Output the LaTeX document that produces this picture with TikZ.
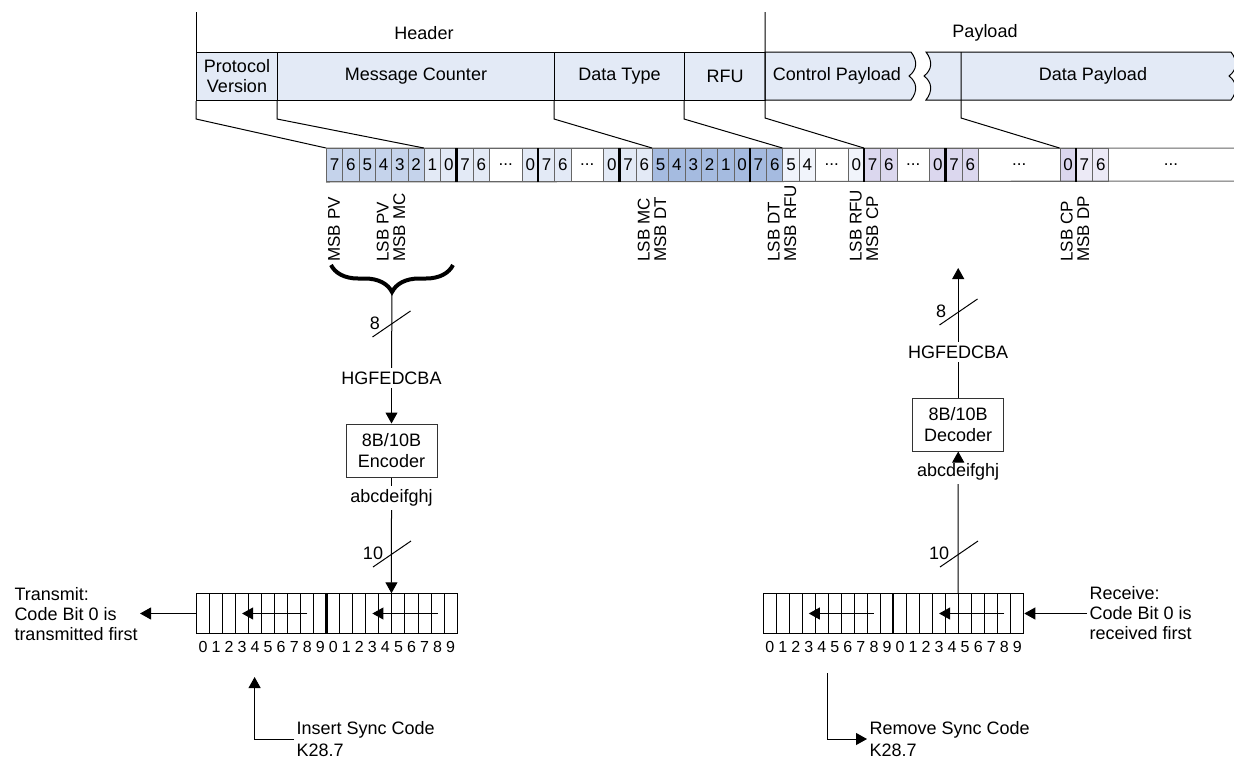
\documentclass[tikz,border=0pt]{standalone}
\usepackage{fontspec}
\setmainfont{Liberation Sans}
\usetikzlibrary{arrows.meta,positioning,decorations.pathreplacing}

\definecolor{hdr}{RGB}{227,234,246}
\definecolor{pvc}{RGB}{197,211,235}
\definecolor{mcc}{RGB}{227,234,246}
\definecolor{dtc}{RGB}{165,187,224}
\definecolor{rfuc}{RGB}{241,244,251}
\definecolor{cpc}{RGB}{219,215,238}
\definecolor{dpc}{RGB}{236,234,246}

% torn edge of the header band, top to bottom and bottom to top
\newcommand{\tornd}[1]{.. controls (#1+7,61) and (#1+6,70) .. (#1-2,76) .. controls (#1+6,82) and (#1+7,91) .. (#1,100)}
\newcommand{\tornu}[1]{.. controls (#1+7,91) and (#1+6,82) .. (#1-2,76) .. controls (#1+6,70) and (#1+7,61) .. (#1,52)}
\newcommand{\bdots}{...}

\begin{document}
\begin{tikzpicture}[x=1pt, y=-1pt, line width=1pt,
    font=\fontsize{18}{20}\selectfont,
    arr/.style={-{Triangle[length=11pt,width=12pt]}},
    field/.style={draw, fill=hdr, minimum height=48, inner sep=0, anchor=north west, align=center},
    bit cell/.style={draw=black!60, minimum height=33, inner sep=0, anchor=north west, font=\fontsize{17}{20}\selectfont},
    byte sep/.style={line width=2.5pt},
    vlabel/.style={rotate=90, anchor=west, align=left, inner sep=0, font=\fontsize{17}{16.5}\selectfont},
    codec/.style={draw=black!80, minimum width=91, minimum height=53, align=center, font=\fontsize{18}{21}\selectfont},
    reg cell/.style={draw, minimum width=13.03, minimum height=39.4, inner sep=0, anchor=north west},
    reg num/.style={inner sep=0, font=\fontsize{16}{18}\selectfont},
    side text/.style={align=left, inner sep=2pt, anchor=west}]

  \useasboundingbox (0,0) rectangle (1234,758);

  %Header band%
  \node (hdrtitle) at (424,33) {Header};
  \node (pltitle) at (985,33) {Payload};
  \node[field, minimum width=81] (pv) at (196,52) {Protocol\\Version};
  \node[field, minimum width=277] (mc) at (277,52) {Message Counter};
  \node[field, minimum width=130] (dt) at (554,52) {Data Type};
  \node[field, minimum width=81] (rfu) at (684,52) {RFU};
  \filldraw[fill=hdr] (765,52) -- (911,52) \tornd{911} -- (765,100) -- cycle;
  \node (cp) at (837,76) {Control Payload};
  \filldraw[fill=hdr] (926,100) \tornu{926} -- (1231,52) \tornd{1231} -- cycle;
  \node (dp) at (1093,76) {Data Payload};

  %Bit row%
  \foreach \i/\w/\lab/\col in {0/1/7/pvc, 1/1/6/pvc, 2/1/5/pvc, 3/1/4/pvc, 4/1/3/pvc, 5/1/2/pvc,
      6/1/1/mcc, 7/1/0/mcc, 8/1/7/mcc, 9/1/6/mcc, 10/2/\bdots/white, 12/1/0/mcc,
      13/1/7/mcc, 14/1/6/mcc, 15/2/\bdots/white, 17/1/0/mcc,
      18/1/7/mcc, 19/1/6/mcc, 20/1/5/dtc, 21/1/4/dtc, 22/1/3/dtc, 23/1/2/dtc, 24/1/1/dtc, 25/1/0/dtc,
      26/1/7/dtc, 27/1/6/dtc, 28/1/5/rfuc, 29/1/4/rfuc, 30/2/\bdots/white, 32/1/0/rfuc,
      33/1/7/cpc, 34/1/6/cpc, 35/2/\bdots/white, 37/1/0/cpc,
      38/1/7/cpc, 39/1/6/cpc, 40/5/\bdots/white, 45/1/0/cpc,
      46/1/7/dpc, 47/1/6/dpc}
    \node[bit cell, fill=\col, minimum width=\w*16.3] (b\i) at (326+\i*16.3,148) {\lab};
  \draw[black!60] (b0.north west) -- (1234,148) (b0.south west) -- (1234,181);
  \node[font=\fontsize{17}{20}\selectfont] (bend) at (1171,164.5) {\bdots};
  \foreach \k in {8,13,18,26,33,38,46}
    \draw[byte sep] (b\k.north west) -- (b\k.south west);

  %Field to bit lines%
  \draw (pv.north west) -- ++(0,-40);
  \draw (pv.south west) -- ++(0,18) -- (b0.north west);
  \draw (mc.south west) -- ++(0,18) -- (b6.north west);
  \draw (dt.south west) -- ++(0,18) -- (b20.north west);
  \draw (rfu.south west) -- ++(0,18) -- (b28.north west);
  \draw (765,12) -- (765,118) -- (b33.north west);
  \draw (961,52) -- (961,118) -- (b45.north west);

  %Bit labels%
  \node[vlabel] (lpv) at (334,262) {MSB PV};
  \node[vlabel] (lmc) at (391,262) {LSB PV\\MSB MC};
  \node[vlabel] (ldt) at (652,262) {LSB MC\\MSB DT};
  \node[vlabel] (lrfu) at (782,262) {LSB DT\\MSB RFU};
  \node[vlabel] (lcp) at (864,262) {LSB RFU\\MSB CP};
  \node[vlabel] (ldp) at (1075,262) {LSB CP\\MSB DP};

  \draw[line width=4pt, decorate, decoration={brace, mirror, amplitude=27pt}] (331,265) -- (453,265);
  \coordinate (bt) at (392,293);

  %Shift registers%
  \foreach \i in {0,...,19} {
    \node[reg cell] (t\i) at (196+\i*13.03,593.3) {};
    \node[reg cell] (r\i) at (762.7+\i*13.03,593.3) {};
    \pgfmathtruncatemacro\dig{mod(\i,10)}
    \node[reg num, below=7pt of t\i] (tn\i) {\dig};
    \node[reg num, below=7pt of r\i] (rn\i) {\dig};
  }
  \draw[byte sep] (t10.north west) -- (t10.south west);
  \draw[byte sep] (r10.north west) -- (r10.south west);
  \draw[arr] (t8.center) -- (t3.center);
  \draw[arr] (t18.center) -- (t13.center);
  \draw[arr] (r8.center) -- (r3.center);
  \draw[arr] (r18.center) -- (r13.center);

  %Transmit side%
  \node (hgtx) at (391.5,378) {HGFEDCBA};
  \node[codec] (enc) at (391.5,450.5) {8B/10B\\Encoder};
  \node (abctx) at (391.5,498) {abcdeifghj};
  \draw (bt) -- (hgtx.north);
  \draw[arr] (hgtx.south) -- (enc.north);
  \draw (enc.south) -- (abctx.north);
  \draw[arr] (abctx.south) -- (t15.north west);
  \draw (372.5,337) -- (410.5,311);
  \node (w8tx) at (375,323) {8};
  \draw (373,567) -- (411,541);
  \node (w10tx) at (373,553) {10};

  \node[side text] (txnote) at (12,614) {Transmit:\\Code Bit 0 is\\transmitted first};
  \draw[arr] (t0.west) -- (t0.west -| txnote.east);

  \node[side text, font=\fontsize{18}{22}\selectfont] (ins) at (294,739) {Insert Sync Code\\K28.7};
  \coordinate (instip) at (254.6,677);
  \draw[arr] (ins.west) -| (instip);

  %Receive side%
  \coordinate (rxout) at (958.2,268);
  \node (hgrx) at (958.2,352) {HGFEDCBA};
  \node[codec] (dec) at (958.2,424.5) {8B/10B\\Decoder};
  \node (abcrx) at (958.2,472) {abcdeifghj};
  \draw (r15.north west) -- (abcrx.south);
  \draw[arr] (abcrx.north) -- (dec.south);
  \draw (dec.north) -- (hgrx.south);
  \draw[arr] (hgrx.north) -- (rxout);
  \draw (939.5,325) -- (977.5,299);
  \node (w8rx) at (941,311) {8};
  \draw (940,567) -- (978,541);
  \node (w10rx) at (939,553) {10};

  \node[side text] (rxnote) at (1087,613) {Receive:\\Code Bit 0 is\\received first};
  \draw[arr] (rxnote.west |- r19.east) -- (r19.east);

  \node[side text, font=\fontsize{18}{22}\selectfont] (rem) at (867,739) {Remove Sync Code\\K28.7};
  \coordinate (remtop) at (827.9,673);
  \draw[arr] (remtop) |- (rem.west);
\end{tikzpicture}
\end{document}
